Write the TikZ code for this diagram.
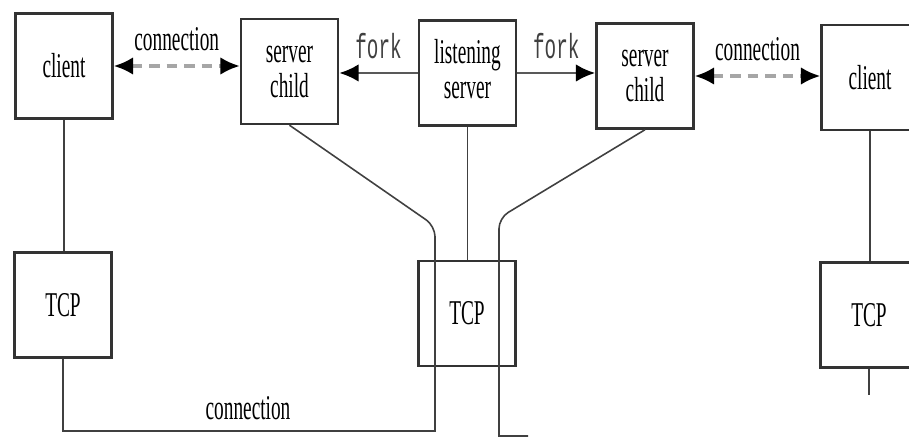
\documentclass[tikz,border=0pt]{standalone}
\usepackage{fontspec}
\setmainfont{Liberation Serif}
\setmonofont{Liberation Mono}
\usetikzlibrary{arrows.meta}

% the scanned text is tall and narrow
\newcommand{\tall}[1]{\scalebox{1}[1.8]{#1}}
\newcommand{\twoline}[2]{\tall{\begin{tabular}{@{}c@{}}#1\\[-2pt]#2\end{tabular}}}

\begin{document}
\begin{tikzpicture}[x=0.02cm,y=-0.02cm,
    box/.style={draw=black!80, line width=1.4pt, minimum width=1.94cm,
      minimum height=2.1cm, inner sep=0pt, font=\fontsize{11}{13}\selectfont},
    lbl/.style={inner sep=1pt, font=\fontsize{11}{13}\selectfont},
    wire/.style={draw=black!75, line width=0.9pt},
    conn/.style={draw=black!35, line width=1.8pt, dash pattern=on 6pt off 4pt,
      {Latex[black,length=11pt,width=10pt]}-{Latex[black,length=11pt,width=10pt]}},
    forkarrow/.style={draw=black!65, line width=1.6pt,
      -{Latex[black,length=11pt,width=10pt]}}]

    \clip (0,0) rectangle (909,438);
    \useasboundingbox (0,0) rectangle (909,438);

    % Processes
    \node[box] (cl)  at (64,66)    {\tall{client}};
    \node[box] (scl) at (289.5,71.5) {\twoline{server}{child}};
    \node[box] (ls)  at (467.5,73) {\twoline{listening}{server}};
    \node[box] (scr) at (645,76)   {\twoline{server}{child}};
    \node[box] (cr)  at (870,77.5) {\tall{client}};

    % TCP layers
    \node[box] (tcpl) at (63,305)  {\tall{TCP}};
    \node[box] (tcpm) at (467,313.5) {\tall{TCP}};
    \node[box] (tcpr) at (869,315) {\tall{TCP}};

    % Connections between processes
    \draw[conn] (cl.east) -- (cl.east -| scl.west)
      node[midway, above=7pt, lbl] (connL) {\tall{connection}};
    \draw[forkarrow] (ls.west) -- (ls.west -| scl.east)
      node[midway, above=6pt, lbl, text=black!75] (forkL) {\tall{\ttfamily fork}};
    \draw[forkarrow] (ls.east) -- (ls.east -| scr.west)
      node[midway, above=6pt, lbl, text=black!75] (forkR) {\tall{\ttfamily fork}};
    \draw[conn] (scr.east) -- (scr.east -| cr.west)
      node[midway, above=7pt, lbl] (connR) {\tall{connection}};

    % Down to TCP
    \draw[wire] (cl.south) -- (cl.south |- tcpl.north);
    \draw[wire] (ls.south) -- (ls.south |- tcpm.north);
    \draw[wire] (cr.south) -- (cr.south |- tcpr.north);

    % Socket pairs
    \coordinate (bendL) at (435,226);
    \coordinate (footL) at (435,431);
    \draw[wire] (scl.south) [rounded corners=6pt]-- (bendL) [sharp corners]-- (footL)
      -- (footL -| tcpl.south) -- (tcpl.south);
    \node[lbl] (connB) at (248,408) {\tall{connection}};

    \coordinate (bendR) at (499,218);
    \coordinate (footR) at (499,436);
    \coordinate (endR) at (528,436);
    \draw[wire] (scr.south) [rounded corners=6pt]-- (bendR) [sharp corners]-- (footR) -- (endR);

    \coordinate (stubR) at (869,395);
    \draw[wire] (tcpr.south) -- (stubR);
\end{tikzpicture}
\end{document}
